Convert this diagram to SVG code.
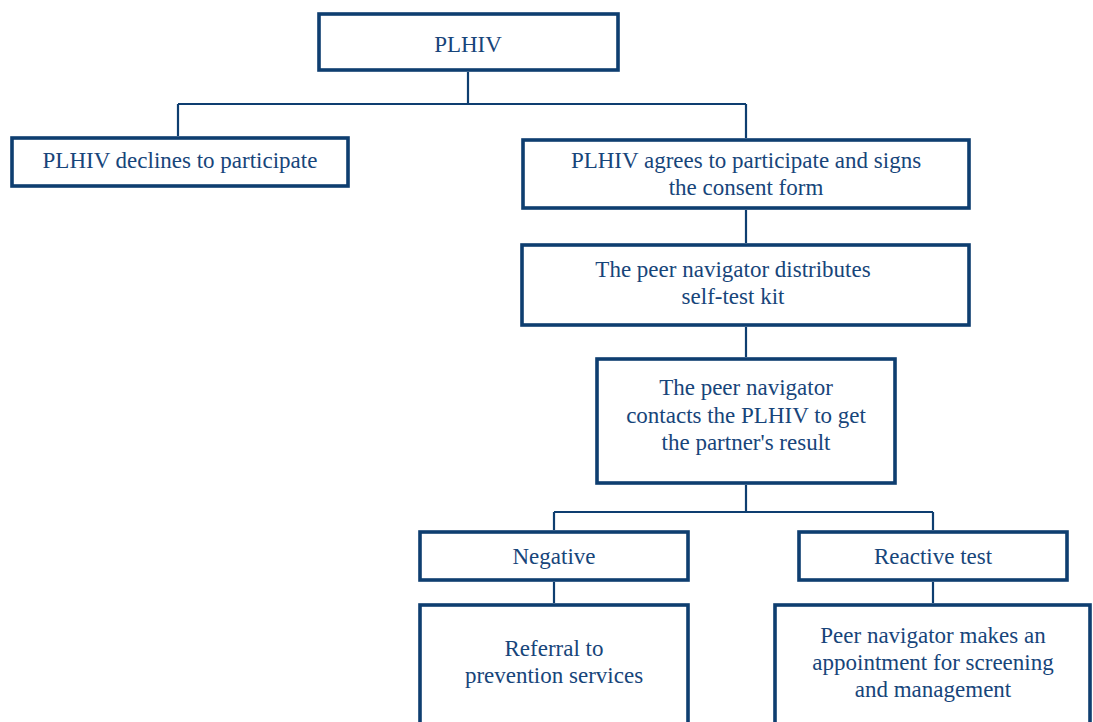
<svg xmlns="http://www.w3.org/2000/svg" width="1093" height="722" viewBox="0 0 1093 722">
<style>
.box{fill:#fff;stroke:#0e3e70;stroke-width:3.6}
.ln{fill:none;stroke:#0e3e70;stroke-width:2.2}
text{font-family:"Liberation Serif","Times New Roman",serif;font-size:23px;fill:#17457a;text-anchor:middle}
</style>
<rect width="1093" height="722" fill="#fff"/>
<g id="connectors">
<path class="ln" d="M468 72V104M178 104H746M178 104V136M746 104V138"/>
<path class="ln" d="M746 210V243M746 327V357M746 485V512M554 512H933M554 512V530M933 512V530M554 582V603M933 582V603"/>
</g>
<g id="n-plhiv"><rect class="box" x="319" y="14" width="299" height="56"/><text x="468" y="52">PLHIV</text></g>
<g id="n-declines"><rect class="box" x="12" y="138" width="336" height="48"/><text x="180" y="168">PLHIV declines to participate</text></g>
<g id="n-agrees"><rect class="box" x="523" y="140" width="446" height="68"/><text x="746" y="168">PLHIV agrees to participate and signs</text><text x="746" y="195">the consent form</text></g>
<g id="n-distributes"><rect class="box" x="522" y="245" width="447" height="80"/><text x="733" y="277">The peer navigator distributes</text><text x="733" y="304">self-test kit</text></g>
<g id="n-contacts"><rect class="box" x="597" y="359" width="298" height="124"/><text x="746" y="395">The peer navigator</text><text x="746" y="423">contacts the PLHIV to get</text><text x="746" y="450">the partner's result</text></g>
<g id="n-negative"><rect class="box" x="420" y="532" width="268" height="48"/><text x="554" y="564">Negative</text></g>
<g id="n-reactive"><rect class="box" x="799" y="532" width="268" height="48"/><text x="933" y="564">Reactive test</text></g>
<g id="n-referral"><rect class="box" x="420" y="605" width="268" height="130"/><text x="554" y="656">Referral to</text><text x="554" y="683">prevention services</text></g>
<g id="n-peer"><rect class="box" x="775" y="605" width="315" height="130"/><text x="933" y="643">Peer navigator makes an</text><text x="933" y="670">appointment for screening</text><text x="933" y="697">and management</text></g>
</svg>
